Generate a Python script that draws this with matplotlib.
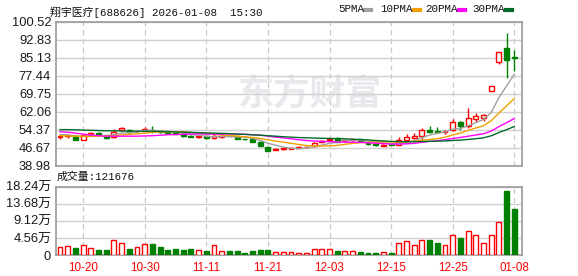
import numpy as np
import pandas as pd
import matplotlib
matplotlib.use("Agg")
import matplotlib.pyplot as plt

# trading days shown (MM-DD)
dates = ["10-15", "10-16", "10-17", "10-20", "10-21", "10-22", "10-23", "10-24", "10-27", "10-28",
         "10-29", "10-30", "10-31", "11-03", "11-04", "11-05", "11-06", "11-07", "11-10", "11-11",
         "11-12", "11-13", "11-14", "11-17", "11-18", "11-19", "11-20", "11-21", "11-24", "11-25",
         "11-26", "11-27", "11-28", "12-01", "12-02", "12-03", "12-04", "12-05", "12-08", "12-09",
         "12-10", "12-11", "12-12", "12-15", "12-16", "12-17", "12-18", "12-19", "12-22", "12-23",
         "12-24", "12-25", "12-26", "12-29", "12-30", "12-31", "01-05", "01-06", "01-07", "01-08"]

opens = [51.4, 51.7, 51.5, 50.1, 52.1, 53.0, 52.0, 51.2, 54.2, 54.4,
         53.9, 54.1, 54.0, 53.8, 53.5, 53.1, 52.6, 51.8, 51.3, 51.6,
         50.8, 51.5, 52.3, 51.6, 50.6, 50.5, 49.4, 47.0, 45.9, 46.2,
         46.4, 46.8, 46.9, 47.4, 49.3, 50.2, 51.0, 49.5, 50.0, 50.3,
         48.7, 48.3, 47.5, 48.2, 48.1, 49.95, 51.0, 51.7, 54.5, 54.0,
         53.3, 54.5, 57.8, 55.9, 59.2, 59.3, 70.9, 83.5, 89.2, 85.4]
highs = [52.4, 52.5, 52.3, 52.4, 53.3, 53.5, 52.3, 54.6, 55.4, 54.6,
         54.5, 55.4, 56.2, 54.0, 53.8, 53.3, 52.8, 52.0, 51.8, 51.8,
         52.5, 52.1, 52.4, 51.7, 50.7, 50.6, 49.5, 47.2, 46.7, 46.7,
         46.9, 47.3, 47.3, 49.1, 50.1, 51.0, 51.2, 50.4, 50.6, 50.5,
         48.9, 48.5, 48.2, 48.5, 51.2, 52.8, 53.1, 55.2, 56.2, 55.6,
         54.5, 59.2, 58.0, 63.7, 61.6, 61.2, 72.9, 87.6, 95.9, 88.5]
lows = [50.6, 50.9, 50.0, 50.0, 51.9, 52.0, 50.3, 50.8, 53.9, 53.2,
        53.6, 53.8, 53.1, 53.2, 52.9, 52.5, 51.5, 51.2, 51.1, 50.6,
        50.6, 51.0, 51.6, 50.6, 50.1, 49.3, 47.4, 45.2, 45.6, 46.0,
        46.2, 46.6, 46.7, 47.2, 49.1, 49.8, 49.2, 49.3, 49.8, 49.4,
        48.1, 47.6, 47.3, 47.9, 47.9, 49.1, 50.7, 50.7, 53.1, 53.1,
        52.8, 53.8, 54.5, 55.2, 57.8, 58.3, 70.9, 82.5, 76.5, 79.3]
closes = [51.8, 52.2, 50.1, 52.1, 52.9, 52.4, 51.0, 53.5, 55.2, 53.6,
          54.1, 54.6, 53.7, 53.5, 53.1, 52.6, 51.6, 51.5, 51.6, 50.8,
          51.9, 51.8, 51.7, 50.7, 50.3, 49.4, 47.6, 45.5, 46.3, 46.5,
          46.7, 47.0, 47.1, 48.8, 49.8, 50.5, 49.3, 50.2, 50.3, 49.6,
          48.4, 47.9, 48.1, 48.0, 49.9, 51.2, 51.6, 54.5, 53.6, 53.6,
          54.0, 57.8, 55.9, 59.5, 60.2, 60.6, 72.9, 87.6, 84.2, 85.2]
# volume in 万 shares
volumes = [2.05, 2.31, 1.78, 2.58, 1.78, 1.34, 1.34, 3.92, 3.12, 1.51,
           2.05, 2.85, 2.94, 2.05, 1.25, 1.60, 1.25, 1.51, 1.25, 1.07,
           2.58, 1.16, 1.07, 1.07, 0.53, 1.07, 1.25, 1.25, 0.71, 0.71,
           0.71, 0.53, 0.53, 1.69, 1.51, 1.51, 1.07, 0.98, 0.98, 0.71,
           0.53, 0.53, 0.71, 0.53, 3.12, 3.65, 2.58, 4.09, 3.92, 3.20,
           2.58, 5.25, 4.45, 6.32, 5.25, 3.12, 5.25, 8.72, 17.0, 12.17]

# moving average values before the window is full
ma5_head = [52.4, 52.2, 51.8, 51.6]
ma10_head = [51.9, 51.8, 51.7, 51.6, 51.6, 51.7, 51.8, 51.9, 52.2]
ma20_head = [53.6, 53.4, 53.0, 52.6, 52.2, 51.9, 51.7, 51.7, 51.7, 51.7,
             51.7, 51.8, 51.9, 52.1, 52.3, 52.4, 52.5, 52.6, 52.7]
ma30_head = [54.5, 54.5, 54.4, 54.3, 54.2, 54.1, 54.0, 54.0, 53.9, 53.9,
             53.8, 53.8, 53.8, 53.7, 53.6, 53.5, 53.4, 53.3, 53.2, 53.1,
             53.0, 52.9, 52.8, 52.6, 52.5, 52.3, 52.1, 51.9, 51.7]

price_ticks = [38.98, 46.67, 54.37, 62.06, 69.75, 77.44, 85.13, 92.83, 100.52]
vol_ticks = [0, 4.56, 9.12, 13.68, 18.24]
vol_labels = ["0", "4.56万", "9.12万", "13.68万", "18.24万"]
tick_idx = [3, 11, 19, 27, 35, 43, 51, 59]

RED = "#ff0000"
GREEN = "#008000"
ma_colors = {5: "#a0a0a0", 10: "#f0a000", 20: "#ff00ff", 30: "#006a2a"}
LABEL_FONT = ["Liberation Sans", "Noto Sans CJK SC"]
CN_FONT = ["Liberation Mono", "Noto Sans CJK SC"]


def main() -> None:
    df = pd.DataFrame({"open": opens, "high": highs, "low": lows,
                       "close": closes, "vol": volumes})
    x = np.arange(len(df))
    up = df["close"] >= df["open"]

    mas = {}
    for n, head in [(5, ma5_head), (10, ma10_head), (20, ma20_head), (30, ma30_head)]:
        m = df["close"].rolling(n).mean().to_numpy()
        m[:n - 1] = head
        mas[n] = m

    fig = plt.figure(figsize=(5.78, 2.76), dpi=100)
    ax = fig.add_axes([56 / 578, 1 - 166 / 276, 466 / 578, 144.3 / 276])
    axv = fig.add_axes([56 / 578, 1 - 255 / 276, 466 / 578, 68.3 / 276])

    for a in (ax, axv):
        a.set_xlim(-0.52, 60.0)
        for s in a.spines.values():
            s.set_color("#9a9a9a")
            s.set_linewidth(1.2)
        a.tick_params(length=0)
        for i in tick_idx:
            a.axvline(i, color="#c8c8c8", lw=0.9, ls=(0, (4, 3)), zorder=0)

    # watermark
    ax.text(0.545, 0.50, "东方财富", transform=ax.transAxes, ha="center", va="center",
            fontsize=26, fontweight="bold", color="#e8e8ed", family="Noto Sans CJK SC", zorder=0)

    # price panel
    ax.set_ylim(price_ticks[0], price_ticks[-1])
    ax.set_yticks(price_ticks)
    ax.set_yticklabels([f"{t:.2f}" for t in price_ticks], fontsize=9.3,
                       family=LABEL_FONT, color="#1a1a1a")
    ax.set_xticks([])
    ax.grid(axis="y", color="#d0d0d0", lw=1.0, zorder=0)

    w = 0.64
    body_lo = np.minimum(df["open"], df["close"])
    body_h = np.maximum((df["close"] - df["open"]).abs(), 0.12)
    cols = np.where(up, RED, GREEN)
    ax.vlines(x, df["low"], df["high"], colors=cols, lw=1.0, zorder=2)
    ax.bar(x[up], body_h[up], w, bottom=body_lo[up], facecolor="white",
           edgecolor=RED, lw=1.0, zorder=3)
    ax.bar(x[~up], body_h[~up], w, bottom=body_lo[~up], facecolor=GREEN,
           edgecolor=GREEN, lw=1.0, zorder=3)

    for n, m in mas.items():
        ax.plot(x, m, color=ma_colors[n], lw=1.0, zorder=4)

    # volume panel
    axv.set_ylim(0, 18.24)
    axv.set_yticks(vol_ticks)
    axv.set_yticklabels(vol_labels, fontsize=9.3, family=LABEL_FONT, color="#1a1a1a")
    axv.grid(axis="y", color="#d0d0d0", lw=1.0, zorder=0)
    axv.bar(x[up], df["vol"][up], w, facecolor="white", edgecolor=RED, lw=1.0, zorder=3)
    axv.bar(x[~up], df["vol"][~up], w, facecolor=GREEN, edgecolor=GREEN, lw=1.0, zorder=3)
    axv.set_xticks(tick_idx)
    axv.set_xticklabels([dates[i] for i in tick_idx], fontsize=8.4,
                        family=LABEL_FONT, color=RED)
    axv.tick_params(axis="x", pad=5)

    # header texts
    fig.text(50 / 578, 1 - 12 / 276, "翔宇医疗[688626] 2026-01-08  15:30", fontsize=7.8,
             family=CN_FONT, va="center", ha="left", color="#111111")
    fig.text(57 / 578, 1 - 177 / 276, "成交量:121676", fontsize=7.8,
             family=CN_FONT, va="center", ha="left", color="#111111")

    legend = [("5PMA", 338, 5), ("10PMA", 380, 10), ("20PMA", 425, 20), ("30PMA", 472, 30)]
    for label, lx, n in legend:
        fig.text(lx / 578, 1 - 9 / 276, label, fontsize=7.8, family=CN_FONT,
                 va="center", ha="left", color="#111111")
        mx = lx + 6.1 * len(label) + 3
        fig.add_artist(plt.Line2D([mx / 578, (mx + 6) / 578], [1 - 9.5 / 276] * 2,
                                  color=ma_colors[n], lw=3.0))

    fig.savefig("out.png", dpi=100)


if __name__ == '__main__':
    main()
